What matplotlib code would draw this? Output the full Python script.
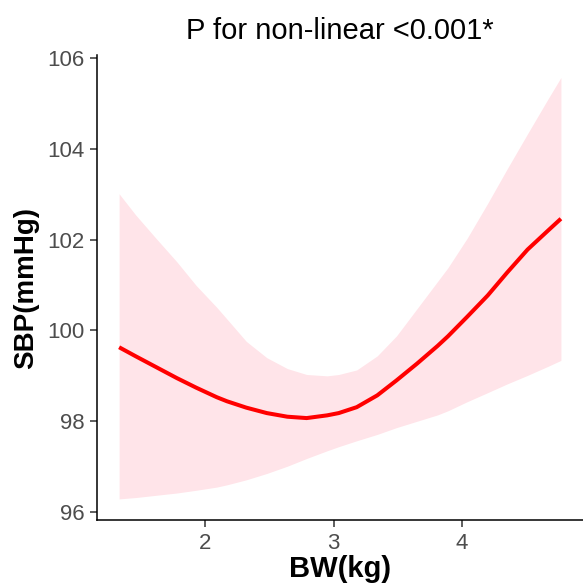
import numpy as np
import matplotlib
matplotlib.use("Agg")
import matplotlib.pyplot as plt

plt.rcParams["font.family"] = ["Liberation Sans", "DejaVu Sans"]

# values
bw = [1.33, 1.46, 1.62, 1.78, 1.93, 2.09, 2.17, 2.32, 2.48, 2.64, 2.79, 2.95, 3.04,
      3.18, 3.34, 3.49, 3.65, 3.81, 3.89, 4.04, 4.20, 4.35, 4.51, 4.67, 4.77]
sbp = [99.63, 99.43, 99.19, 98.95, 98.74, 98.53, 98.44, 98.30, 98.18, 98.10, 98.07, 98.13, 98.18,
       98.31, 98.57, 98.90, 99.27, 99.66, 99.87, 100.30, 100.77, 101.27, 101.78, 102.20, 102.46]
upper = [103.01, 102.54, 102.02, 101.51, 100.99, 100.51, 100.25, 99.76, 99.40, 99.16, 99.03, 99.00, 99.03,
         99.13, 99.44, 99.88, 100.48, 101.08, 101.38, 102.03, 102.80, 103.55, 104.33, 105.10, 105.57]
lower = [96.29, 96.32, 96.37, 96.42, 96.48, 96.55, 96.60, 96.71, 96.85, 97.01, 97.18, 97.35, 97.44,
         97.57, 97.71, 97.86, 98.00, 98.14, 98.23, 98.43, 98.63, 98.82, 99.01, 99.21, 99.34]

xticks = [2, 3, 4]
yticks = [96, 98, 100, 102, 104, 106]

fig = plt.figure(figsize=(5.83, 5.86), dpi=100)
ax = fig.add_axes([0.1664, 0.1126, 0.8336, 0.7927])

ax.fill_between(bw, lower, upper, color="#FFE4E9", linewidth=0)
ax.plot(bw, sbp, color="red", linewidth=2.9, solid_capstyle="butt", solid_joinstyle="round")

ax.set_xlim(1.158, 4.942)
ax.set_ylim(95.825, 106.055)
ax.set_xticks(xticks)
ax.set_yticks(yticks)

for s in ["top", "right"]:
    ax.spines[s].set_visible(False)
for s in ["left", "bottom"]:
    ax.spines[s].set_linewidth(1.1)
    ax.spines[s].set_color("black")

ax.tick_params(axis="both", length=5, width=1.1, color="#333333",
               labelsize=16, labelcolor="#4D4D4D", pad=4)

ax.set_xlabel("BW(kg)", fontsize=21, fontweight="bold", labelpad=1)
ax.set_ylabel("SBP(mmHg)", fontsize=20, fontweight="bold", labelpad=6)
ax.set_title("P for non-linear <0.001*", fontsize=21, pad=12)

fig.savefig("out.png", dpi=100)
